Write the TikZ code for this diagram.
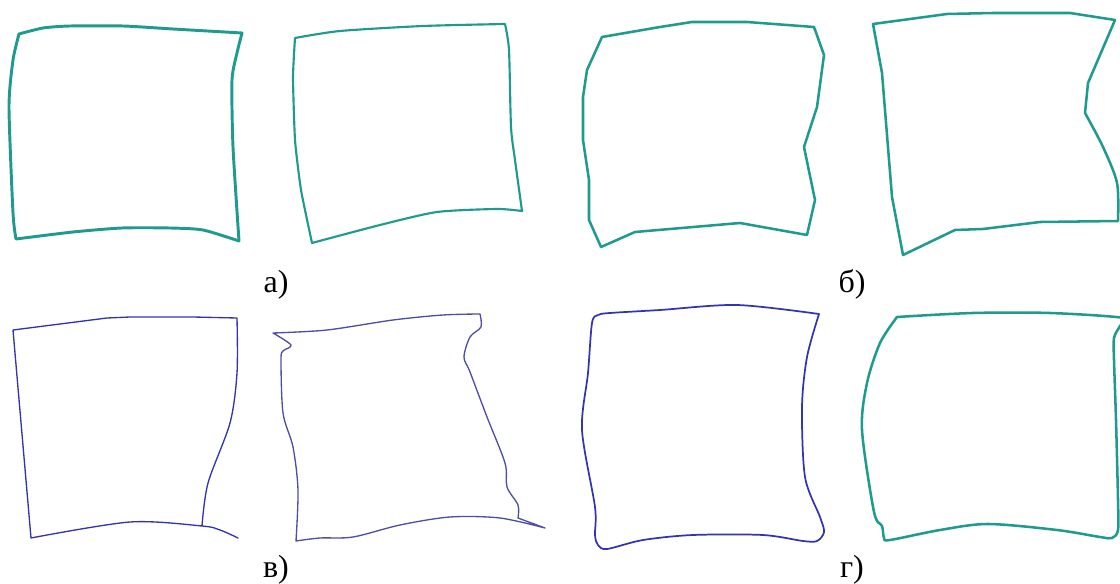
\documentclass[tikz,border=0pt]{standalone}
\usepackage{fontspec}
\setmainfont{Liberation Serif}
\usepackage{xcolor}
\usepackage{tikz}
\definecolor{tealc}{HTML}{1E9A8F}
\definecolor{bluec}{HTML}{3434B2}
\definecolor{bluesoft}{HTML}{4E4EA6}

\begin{document}
\begin{tikzpicture}[x=0.75pt, y=-0.75pt, line join=round, line cap=round,
  lbl/.style={font=\fontsize{24}{28}\selectfont, anchor=base, inner sep=0pt}]
  \useasboundingbox (0,0) rectangle (1120,584);
  \clip (0,0) rectangle (1120,584);
  \draw[tealc, line width=2.2pt] plot[smooth, tension=0.4] coordinates {(19,34) (43,28) (70,26) (123,26) (173,29) (242,33)}
    -- plot[smooth, tension=0.4] coordinates {(242,33) (237,53) (232,80) (233,147) (239,241)}
    -- plot[smooth, tension=0.4] coordinates {(239,241) (203,230) (170,228) (122,228) (73,232) (16,239)}
    -- plot[smooth, tension=0.4] coordinates {(16,239) (13,213) (9,107) (13,60) (19,34)} -- cycle;
  \draw[tealc, line width=1.6pt] plot[smooth, tension=0.4] coordinates {(295,38) (340,31) (423,26) (505,24)}
    -- plot[smooth, tension=0.4] coordinates {(505,24) (509,50) (511,127) (515,160) (522,211)}
    -- plot[smooth, tension=0.4] coordinates {(522,211) (497,209) (437,212) (380,225) (312,243)}
    -- plot[smooth, tension=0.3] coordinates {(312,243) (301,190) (295,140) (293,77) (295,38)} -- cycle;
  \draw[tealc, line width=1.9pt] (602,37) -- (660,27) -- (692,22) -- (747,22) -- (814,27) -- (824,55) -- (817,107)
    -- (804,147) -- (815,200) -- (807,235) -- (740,223) -- (635,232) -- (601,247) -- (589,220) -- (589,180)
    -- (583,140) -- (583,97) -- (587,70) -- cycle;
  \draw[tealc, line width=1.9pt] (873,24) -- (947,14) -- (993,13) -- (1070,13) -- (1115,20) -- (1088,83) -- (1085,113)
    -- plot[smooth] coordinates {(1085,113) (1103,147) (1117,183) (1118,221)}
    -- (1040,222) -- (983,229) -- (955,230) -- (903,255) -- (892,197) -- (882,73) -- cycle;
  \draw[bluec, line width=1pt] plot[smooth] coordinates {(202,526) (208,483) (230,423) (237,373) (237,318)}
    -- (193,317) -- (130,317) -- (107,318) -- (13,330) -- (31,538)
    -- plot[smooth] coordinates {(31,538) (130,522) (202,526) (220,530) (238,538)};
  \draw[bluesoft, line width=1pt] plot[smooth] coordinates {(273,333) (327,330) (393,320) (443,315) (480,314)}
    -- plot[smooth] coordinates {(480,314) (481,327) (470,337) (464,357) (470,372) (487,417) (505,463) (507,487) (518,505) (518,518)}
    -- (545,528)
    -- plot[smooth] coordinates {(545,528) (500,518) (450,517) (400,525) (353,537) (320,538) (296,541)}
    -- plot[smooth] coordinates {(296,541) (298,490) (293,447) (283,413) (281,360) (283,351) (291,345) (273,333)};
  \draw[bluec, line width=1.3pt] plot[smooth] coordinates {(819,314) (807,357) (802,407) (805,477) (820,517) (824,532)
    (817,541) (803,541) (763,535) (693,535) (643,540) (607,549) (598,545) (595,535) (595,507) (582,430) (588,373)
    (592,323) (598,315) (610,313) (660,310) (737,305) (819,314)};
  \draw[tealc, line width=1.9pt] plot[smooth] coordinates {(897,317) (973,313) (1050,313) (1124,318) (1120,326) (1114,338)
    (1114,360) (1116,420) (1118,500) (1118,530) (1112,538) (1100,537) (1057,530) (988,524) (940,530) (890,540)
    (884,538) (882,526) (874,512) (862,430) (867,383) (880,343) (897,317)};
  \node[lbl] (la) at (276,293) {а)};
  \node[lbl] (lb) at (852,293) {б)};
  \node[lbl] (lc) at (276,577) {в)};
  \node[lbl] (ld) at (852,577) {г)};
\end{tikzpicture}
\end{document}
